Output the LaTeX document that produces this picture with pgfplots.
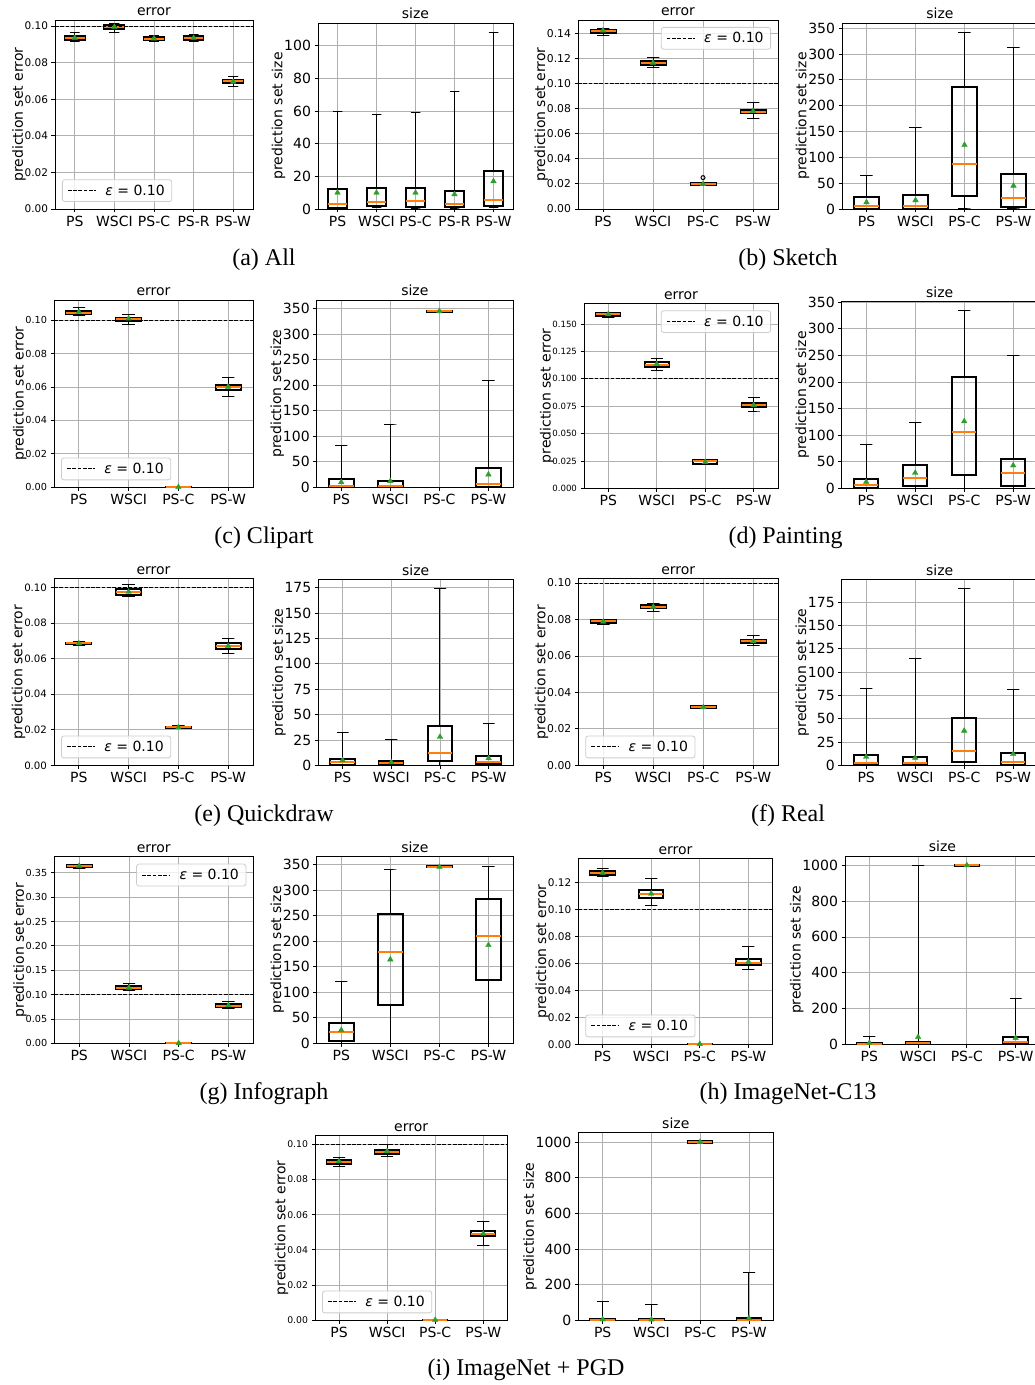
\documentclass[border=0pt]{standalone}
\usepackage{fontspec}
\setmainfont{DejaVu Sans}
\newfontfamily\capfont{Liberation Serif}
\usepackage{pgfplots}
\pgfplotsset{compat=1.18}
\definecolor{morange}{HTML}{FF7F0E}
\definecolor{mgreen}{HTML}{2CA02C}
\definecolor{gridgray}{HTML}{B0B0B0}
\definecolor{leggray}{HTML}{CCCCCC}
\newcommand{\fs}[1]{\fontsize{#1}{#1}\selectfont}
\pgfplotsset{
  mpl/.style={
    scale only axis,
    axis line style={black, line width=0.8pt},
    grid=major,
    major grid style={draw=gridgray, line width=0.8pt},
    tick align=outside,
    major tick length=3.5pt,
    every tick/.style={black, line width=0.8pt},
    xtick pos=left, ytick pos=left,
    xmin=0.5, ymin=0,
    scaled y ticks=false,
    /pgf/number format/assume math mode=true,
    /pgf/number format/1000 sep={},
    xticklabel style={font=\fs{14}},
    ylabel style={font=\fs{14}},
    ylabel shift=-8pt,
    title style={font=\fs{14}, at={(0.5,1)}, anchor=base, yshift=-2pt},
  },
  err/.style={mpl, title=error, ylabel={prediction set error},
    yticklabel style={/pgf/number format/fixed, /pgf/number format/fixed zerofill, /pgf/number format/precision=2},
    legend style={font=\fs{14}, draw=leggray, line width=0.8pt, rounded corners=2.5pt,
      fill=white, fill opacity=0.8, text opacity=1, draw opacity=1,
      inner xsep=5pt, inner ysep=3pt, column sep=7pt},
    legend image code/.code={\draw[##1] (0pt,0pt) -- (28pt,0pt);},
  },
  sz/.style={mpl, title=size, ylabel={prediction set size},
    yticklabel style={font=\fs{14}}},
  four/.style={xmax=4.5, xtick={1,2,3,4}, xticklabels={PS,WSCI,PS-C,PS-W}},
  five/.style={xmax=5.5, xtick={1,2,3,4,5}, xticklabels={PS,WSCI,PS-C,PS-R,PS-W}},
  legLL/.style={legend style={at={(0,0)}, anchor=south west, xshift=7pt, yshift=7pt}},
  legUR/.style={legend style={at={(1,1)}, anchor=north east, xshift=-7pt, yshift=-7pt}},
  eps/.style={black, line width=1pt, dash pattern=on 3.7pt off 1.6pt, mark=none},
  wh/.style={forget plot, black, line width=1pt, mark=none, line join=bevel},
  bx/.style={forget plot, black, line width=2pt, mark=none, line cap=rect, line join=miter},
  md/.style={forget plot, morange, line width=2pt, mark=none},
  mn/.style={forget plot, only marks, mark=triangle*, mark size=3.2pt, mgreen,
    mark options={fill=mgreen, draw=mgreen, line width=0.4pt}},
}
% \bp{pos}{lower whisker}{lower quartile}{median}{upper quartile}{upper whisker}{mean}
\newcommand{\bp}[7]{%
  \pgfmathsetmacro\bxl{#1-0.25}\pgfmathsetmacro\bxr{#1+0.25}%
  \pgfmathsetmacro\cxl{#1-0.125}\pgfmathsetmacro\cxr{#1+0.125}%
  \addplot[wh] coordinates {(\cxl,#2) (\cxr,#2) (#1,#2) (#1,#3)};
  \addplot[wh] coordinates {(\cxl,#6) (\cxr,#6) (#1,#6) (#1,#5)};
  \addplot[bx] coordinates {(\bxl,#3) (\bxr,#3) (\bxr,#5) (\bxl,#5) (\bxl,#3)};
  \addplot[md] coordinates {(\bxl,#4) (\bxr,#4)};
  \addplot[mn] coordinates {(#1,#7)};
}
\newcommand{\epsleg}{\addlegendentry{\textit{ε} = 0.10}}
\begin{document}
\begin{tikzpicture}
\useasboundingbox (0pt,0pt) rectangle (1035pt,1385pt);
\clip (0pt,0pt) rectangle (1035pt,1385pt);

% ---------------- (a) All
\begin{axis}[err, five, legLL, at={(55pt,1176pt)}, anchor=south west, width=198pt, height=189pt,
  ymax=0.1033, ytick={0,0.02,0.04,0.06,0.08,0.10}, yticklabel style={font=\fs{10.5}}]
\bp{1}{0.0915}{0.0925}{0.0935}{0.0945}{0.0962}{0.0935}
\bp{2}{0.0967}{0.0985}{0.0995}{0.1005}{0.1013}{0.0995}
\bp{3}{0.0913}{0.0922}{0.0930}{0.0938}{0.0948}{0.0932}
\bp{4}{0.0913}{0.0925}{0.0935}{0.0943}{0.0953}{0.0935}
\bp{5}{0.0670}{0.0690}{0.0698}{0.0707}{0.0723}{0.0695}
\addplot[eps] coordinates {(0.5,0.1) (5.5,0.1)}; \epsleg
\end{axis}
\begin{axis}[sz, five, at={(318pt,1176pt)}, anchor=south west, width=195pt, height=186pt,
  ymax=114, ytick={0,20,40,60,80,100}]
\bp{1}{0}{0.5}{3}{12.5}{60}{10}
\bp{2}{1}{2}{4}{13}{58}{10}
\bp{3}{0}{1}{5}{13}{59}{10}
\bp{4}{0}{1}{3}{11}{72}{9}
\bp{5}{1}{2}{5.5}{23.5}{108}{17}
\end{axis}

% ---------------- (b) Sketch
\begin{axis}[err, four, legUR, at={(578pt,1176pt)}, anchor=south west, width=200pt, height=189pt,
  ymax=0.1506, ytick={0,0.02,0.04,0.06,0.08,0.10,0.12,0.14}, yticklabel style={font=\fs{10.8}}]
\bp{1}{0.1385}{0.1405}{0.1420}{0.1430}{0.1437}{0.1422}
\bp{2}{0.1130}{0.1150}{0.1160}{0.1180}{0.1210}{0.1165}
\bp{3}{0.0192}{0.0195}{0.0200}{0.0205}{0.0210}{0.0199}
\bp{4}{0.0720}{0.0765}{0.0775}{0.0790}{0.0850}{0.0780}
\addplot[forget plot, only marks, mark=o, mark size=2pt, black, mark options={line width=1pt}] coordinates {(3,0.025)};
\addplot[eps] coordinates {(0.5,0.1) (4.5,0.1)}; \epsleg
\end{axis}
\begin{axis}[sz, four, at={(842pt,1176pt)}, anchor=south west, width=196pt, height=186pt,
  ymax=360, ytick={0,50,100,150,200,250,300,350}]
\bp{1}{0}{0.5}{5}{24}{65}{13}
\bp{2}{0}{0.5}{5}{28}{158}{17}
\bp{3}{0}{25}{87}{236}{342}{124}
\bp{4}{0}{3}{22}{68}{312}{45}
\end{axis}

% ---------------- (c) Clipart
\begin{axis}[err, four, legLL, at={(54pt,897.7pt)}, anchor=south west, width=199pt, height=187.3pt,
  ymax=0.1121, ytick={0,0.02,0.04,0.06,0.08,0.10}, yticklabel style={font=\fs{9.7}}]
\bp{1}{0.1030}{0.1035}{0.1045}{0.1058}{0.1074}{0.1050}
\bp{2}{0.0975}{0.0995}{0.1005}{0.1015}{0.1035}{0.1010}
\bp{3}{0}{0.0001}{0.0002}{0.0004}{0.0005}{0.0001}
\bp{4}{0.0545}{0.0585}{0.0598}{0.0615}{0.0655}{0.0602}
\addplot[eps] coordinates {(0.5,0.1) (4.5,0.1)}; \epsleg
\end{axis}
\begin{axis}[sz, four, at={(316.7pt,897.7pt)}, anchor=south west, width=196.3pt, height=187.3pt,
  ymax=367, ytick={0,50,100,150,200,250,300,350}]
\bp{1}{0}{0.5}{2}{16}{81}{10}
\bp{2}{0}{0.5}{3}{13}{124}{12}
\bp{3}{343}{344}{345}{346}{347}{345}
\bp{4}{0}{0.5}{6}{37}{209}{25}
\end{axis}

% ---------------- (d) Painting
\begin{axis}[err, four, legUR, at={(584pt,896.7pt)}, anchor=south west, width=194pt, height=185pt,
  ymax=0.169, ytick={0,0.025,0.05,0.075,0.10,0.125,0.15},
  yticklabel style={font=\fs{8.6}, /pgf/number format/precision=3}]
\bp{1}{0.1560}{0.1570}{0.1590}{0.1600}{0.1610}{0.1590}
\bp{2}{0.1080}{0.1110}{0.1130}{0.1150}{0.1190}{0.1135}
\bp{3}{0.0220}{0.0225}{0.0250}{0.0255}{0.0260}{0.0240}
\bp{4}{0.0706}{0.0745}{0.0765}{0.0780}{0.0825}{0.0760}
\addplot[eps] coordinates {(0.5,0.1) (4.5,0.1)}; \epsleg
\end{axis}
\begin{axis}[sz, four, at={(841.7pt,896.7pt)}, anchor=south west, width=196pt, height=186.6pt,
  ymax=351, ytick={0,50,100,150,200,250,300,350}]
\bp{1}{0}{0.5}{7}{17}{82}{12}
\bp{2}{0}{4}{19}{44}{123}{29}
\bp{3}{0}{25}{106}{210}{334}{126}
\bp{4}{0}{4}{29}{56}{250}{43}
\end{axis}

% ---------------- (e) Quickdraw
\begin{axis}[err, four, legLL, at={(54pt,619.7pt)}, anchor=south west, width=199pt, height=186.6pt,
  ymax=0.1049, ytick={0,0.02,0.04,0.06,0.08,0.10}, yticklabel style={font=\fs{10.2}}]
\bp{1}{0.0673}{0.0680}{0.0685}{0.0690}{0.0695}{0.0685}
\bp{2}{0.0949}{0.0960}{0.0972}{0.0990}{0.1018}{0.0975}
\bp{3}{0.0205}{0.0209}{0.0213}{0.0218}{0.0222}{0.0213}
\bp{4}{0.0631}{0.0655}{0.0670}{0.0685}{0.0711}{0.0670}
\addplot[eps] coordinates {(0.5,0.1) (4.5,0.1)}; \epsleg
\end{axis}
\begin{axis}[sz, four, at={(318.3pt,619.7pt)}, anchor=south west, width=194.7pt, height=185.6pt,
  ymax=183, ytick={0,25,50,75,100,125,150,175}]
\bp{1}{0}{0.5}{3}{6}{32}{5}
\bp{2}{0}{0.5}{2}{4}{25}{3}
\bp{3}{0}{4}{12}{39}{174}{28}
\bp{4}{0}{1}{3}{9}{41}{7}
\end{axis}

% ---------------- (f) Real
\begin{axis}[err, four, legLL, at={(578.3pt,619.7pt)}, anchor=south west, width=200pt, height=186.6pt,
  ymax=0.1024, ytick={0,0.02,0.04,0.06,0.08,0.10}, yticklabel style={font=\fs{10.8}}]
\bp{1}{0.0775}{0.0780}{0.0790}{0.0795}{0.0800}{0.0788}
\bp{2}{0.0845}{0.0862}{0.0870}{0.0878}{0.0888}{0.0870}
\bp{3}{0.0310}{0.0313}{0.0320}{0.0325}{0.0328}{0.0318}
\bp{4}{0.0655}{0.0670}{0.0680}{0.0690}{0.0711}{0.0680}
\addplot[eps] coordinates {(0.5,0.1) (4.5,0.1)}; \epsleg
\end{axis}
\begin{axis}[sz, four, at={(841.7pt,619.7pt)}, anchor=south west, width=196pt, height=185.6pt,
  ymax=199, ytick={0,25,50,75,100,125,150,175}]
\bp{1}{0}{0.5}{2}{11}{82}{9}
\bp{2}{0}{0.5}{2}{9}{114}{8}
\bp{3}{0}{3}{15}{51}{190}{37}
\bp{4}{0}{0.5}{4}{13}{81}{12}
\end{axis}

% ---------------- (g) Infograph
\begin{axis}[err, four, legUR, at={(54.3pt,341.7pt)}, anchor=south west, width=199pt, height=186.6pt,
  ymax=0.383, ytick={0,0.05,0.10,0.15,0.20,0.25,0.30,0.35}, yticklabel style={font=\fs{9.7}}]
\bp{1}{0.3590}{0.3610}{0.3630}{0.3660}{0.3680}{0.3640}
\bp{2}{0.1090}{0.1110}{0.1140}{0.1170}{0.1230}{0.1140}
\bp{3}{0}{0.0002}{0.0005}{0.0010}{0.0012}{0.0003}
\bp{4}{0.0720}{0.0750}{0.0770}{0.0800}{0.0860}{0.0780}
\addplot[eps] coordinates {(0.5,0.1) (4.5,0.1)}; \epsleg
\end{axis}
\begin{axis}[sz, four, at={(316.7pt,341.7pt)}, anchor=south west, width=196.3pt, height=186.6pt,
  ymax=365, ytick={0,50,100,150,200,250,300,350}]
\bp{1}{0}{5}{23}{39}{120}{26}
\bp{2}{0}{75}{179}{253}{339}{164}
\bp{3}{343}{344}{345}{347}{348}{345}
\bp{4}{0}{124}{210}{283}{345}{192}
\end{axis}

% ---------------- (h) ImageNet-C13
\begin{axis}[err, four, legLL, at={(578.3pt,340.7pt)}, anchor=south west, width=194.4pt, height=185.6pt,
  ymax=0.1374, ytick={0,0.02,0.04,0.06,0.08,0.10,0.12}, yticklabel style={font=\fs{10.5}}]
\bp{1}{0.1244}{0.1255}{0.1270}{0.1285}{0.1304}{0.1270}
\bp{2}{0.1030}{0.1085}{0.1110}{0.1140}{0.1227}{0.1115}
\bp{3}{0}{0.0001}{0.0002}{0.0004}{0.0005}{0.0002}
\bp{4}{0.0555}{0.0585}{0.0605}{0.0635}{0.0727}{0.0610}
\addplot[eps] coordinates {(0.5,0.1) (4.5,0.1)}; \epsleg
\end{axis}
\begin{axis}[sz, four, at={(845pt,340.7pt)}, anchor=south west, width=195pt, height=188.3pt,
  ymax=1052, ytick={0,200,400,600,800,1000}]
\bp{1}{0}{0.5}{3}{10}{46}{8}
\bp{2}{0}{0.5}{5}{15}{1000}{40}
\bp{3}{995}{996}{1000}{1004}{1005}{1000}
\bp{4}{0}{2}{15}{40}{257}{35}
\end{axis}

% ---------------- (i) ImageNet + PGD
\begin{axis}[err, four, legLL, at={(315pt,64.7pt)}, anchor=south west, width=192.3pt, height=185pt,
  ymax=0.1051, ytick={0,0.02,0.04,0.06,0.08,0.10}, yticklabel style={font=\fs{9.3}}]
\bp{1}{0.0875}{0.0890}{0.0900}{0.0912}{0.0924}{0.0903}
\bp{2}{0.0932}{0.0945}{0.0955}{0.0970}{0.0998}{0.0960}
\bp{3}{0}{0.0001}{0.0002}{0.0004}{0.0005}{0.0002}
\bp{4}{0.0426}{0.0480}{0.0490}{0.0505}{0.0564}{0.0492}
\addplot[eps] coordinates {(0.5,0.1) (4.5,0.1)}; \epsleg
\end{axis}
\begin{axis}[sz, four, at={(578.3pt,64.7pt)}, anchor=south west, width=195pt, height=187.6pt,
  ymax=1052, ytick={0,200,400,600,800,1000}]
\bp{1}{0}{0.5}{2}{7}{103}{5}
\bp{2}{0}{0.5}{2}{6}{87}{4}
\bp{3}{995}{996}{1000}{1004}{1005}{1000}
\bp{4}{0}{0.5}{4}{14}{267}{12}
\end{axis}

% ---------------- captions
\node[anchor=base, font=\capfont\fs{24}] at (264pt,1119.5pt) {(a) All};
\node[anchor=base, font=\capfont\fs{24}] at (788pt,1119.5pt) {(b) Sketch};
\node[anchor=base, font=\capfont\fs{24}] at (264pt,841.5pt) {(c) Clipart};
\node[anchor=base, font=\capfont\fs{24}] at (785.5pt,841.5pt) {(d) Painting};
\node[anchor=base, font=\capfont\fs{24}] at (264pt,563.5pt) {(e) Quickdraw};
\node[anchor=base, font=\capfont\fs{24}] at (788pt,563.5pt) {(f) Real};
\node[anchor=base, font=\capfont\fs{24}] at (264pt,285.5pt) {(g) Infograph};
\node[anchor=base, font=\capfont\fs{24}] at (788pt,285.5pt) {(h) ImageNet-C13};
\node[anchor=base, font=\capfont\fs{24}] at (526pt,9.5pt) {(i) ImageNet + PGD};
\end{tikzpicture}
\end{document}
